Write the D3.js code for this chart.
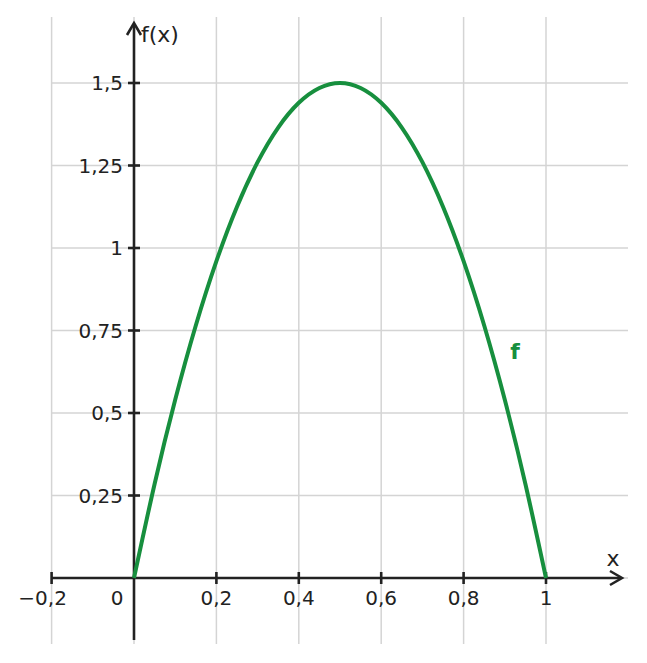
<!DOCTYPE html>
<html><head><meta charset="utf-8">
<script src="https://cdn.jsdelivr.net/npm/d3@7"></script>
<style>body{margin:0;background:#fff}svg{display:block;font-family:"DejaVu Sans",sans-serif}</style>
</head><body>
<svg id="c" width="647" height="663"></svg>
<script>
// Curve samples
const xs = [0,0.05,0.1,0.15,0.2,0.25,0.3,0.35,0.4,0.45,0.5,0.55,0.6,0.65,0.7,0.75,0.8,0.85,0.9,0.95,1];
const ys = [0,0.285,0.54,0.765,0.96,1.125,1.26,1.365,1.44,1.485,1.5,1.485,1.44,1.365,1.26,1.125,0.96,0.765,0.54,0.285,0];
const xTicks = [-0.2,0.2,0.4,0.6,0.8,1];
const xTickLabels = ["−0,2","0,2","0,4","0,6","0,8","1"];
const yTicks = [0.25,0.5,0.75,1,1.25,1.5];
const yTickLabels = ["0,25","0,5","0,75","1","1,25","1,5"];
const xGrid = [-0.2,0,0.2,0.4,0.6,0.8,1];
const yGrid = [0,0.25,0.5,0.75,1,1.25,1.5];

const svg = d3.select("#c");
const x = d3.scaleLinear().domain([0,1]).range([134,546]);
const y = d3.scaleLinear().domain([0,1.5]).range([578,83]);
const gridCol = "#d4d4d4", axCol = "#222", green = "#178f3e";

// grid
svg.append("g").selectAll("line").data(xGrid).join("line")
  .attr("x1",d=>x(d)).attr("x2",d=>x(d)).attr("y1",17).attr("y2",644)
  .attr("stroke",gridCol).attr("stroke-width",1.5);
svg.append("g").selectAll("line").data(yGrid).join("line")
  .attr("x1",51).attr("x2",628).attr("y1",d=>y(d)).attr("y2",d=>y(d))
  .attr("stroke",gridCol).attr("stroke-width",1.5);

// axes
svg.append("line").attr("x1",x(-0.2)).attr("x2",621).attr("y1",y(0)).attr("y2",y(0))
  .attr("stroke",axCol).attr("stroke-width",2.6);
svg.append("line").attr("x1",x(0)).attr("x2",x(0)).attr("y1",640).attr("y2",24)
  .attr("stroke",axCol).attr("stroke-width",2.6);
// arrowheads
svg.append("path").attr("d",`M${610},${y(0)-7}L${622},${y(0)}L${610},${y(0)+7}`)
  .attr("fill","none").attr("stroke",axCol).attr("stroke-width",2.6);
svg.append("path").attr("d",`M${x(0)-7},${35}L${x(0)},${23}L${x(0)+7},${35}`)
  .attr("fill","none").attr("stroke",axCol).attr("stroke-width",2.6);

// ticks
svg.append("g").selectAll("line").data(xTicks).join("line")
  .attr("x1",d=>x(d)).attr("x2",d=>x(d)).attr("y1",y(0)-6).attr("y2",y(0)+6)
  .attr("stroke",axCol).attr("stroke-width",2.6);
svg.append("g").selectAll("line").data(yTicks).join("line")
  .attr("x1",x(0)-6).attr("x2",x(0)+6).attr("y1",d=>y(d)).attr("y2",d=>y(d))
  .attr("stroke",axCol).attr("stroke-width",2.6);

// tick labels
svg.append("g").selectAll("text").data(xTicks).join("text")
  .attr("x",(d,i)=>x(d)+(i===0?-9:0)).attr("y",605).attr("text-anchor","middle")
  .attr("font-size",20).attr("fill",axCol).text((d,i)=>xTickLabels[i]);
svg.append("text").attr("x",117).attr("y",605).attr("text-anchor","middle")
  .attr("font-size",20).attr("fill",axCol).text("0");
svg.append("g").selectAll("text").data(yTicks).join("text")
  .attr("x",123).attr("y",d=>y(d)).attr("dy","0.36em").attr("text-anchor","end")
  .attr("font-size",20).attr("fill",axCol).text((d,i)=>yTickLabels[i]);

// axis titles
svg.append("text").attr("x",613).attr("y",566).attr("text-anchor","middle")
  .attr("font-size",22).attr("fill",axCol).text("x");
svg.append("text").attr("x",141).attr("y",42)
  .attr("font-size",22).attr("fill",axCol).text("f(x)");

// curve
const pts = xs.map((v,i)=>[v,ys[i]]);
svg.append("path").datum(pts)
  .attr("d",d3.line().x(d=>x(d[0])).y(d=>y(d[1])).curve(d3.curveNatural))
  .attr("fill","none").attr("stroke",green).attr("stroke-width",4);
svg.append("text").attr("x",515).attr("y",359).attr("text-anchor","middle")
  .attr("font-size",22).attr("font-weight","bold").attr("fill",green).text("f");
</script>
</body></html>
